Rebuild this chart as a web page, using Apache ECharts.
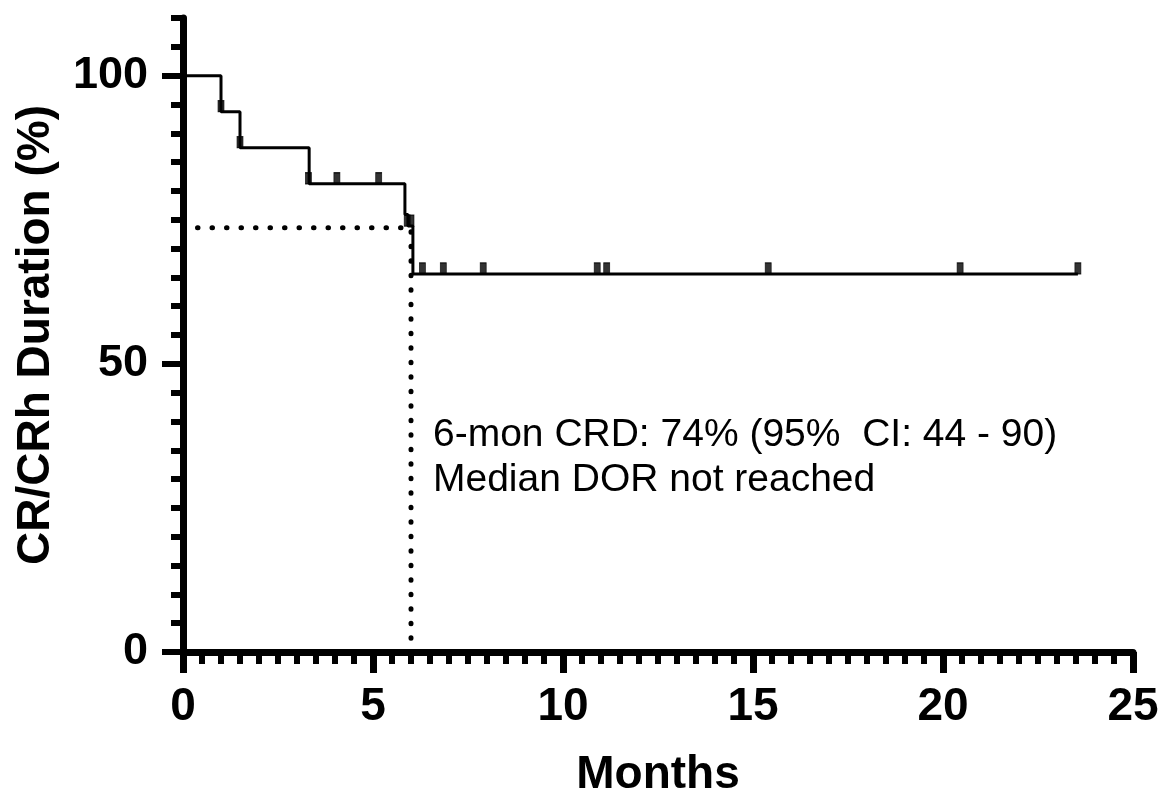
<!DOCTYPE html>
<html>
<head>
<meta charset="utf-8">
<script src="https://cdn.jsdelivr.net/npm/echarts@6/dist/echarts.min.js"></script>
<style>
  html, body { margin: 0; padding: 0; background: #fff; }
  #chart { width: 1163px; height: 799px; }
</style>
</head>
<body>
<div id="chart"></div>
<script>
// Kaplan-Meier step curve (months, % still in CR/CRh)
const stepTimes = [0, 1.0, 1.5, 3.32, 5.84, 5.92, 6.05, 23.55];
const stepSurvival = [100, 93.75, 87.5, 81.25, 75.9, 73.9, 65.6, 65.6];

// censored observations
const censorTimes = [1.0, 1.5, 3.3, 4.05, 5.15, 5.9, 6.0, 6.3, 6.85, 7.9, 10.9, 11.15, 15.4, 20.45, 23.55];
const censorSurvival = [93.75, 87.5, 81.25, 81.25, 81.25, 73.9, 73.9, 65.6, 65.6, 65.6, 65.6, 65.6, 65.6, 65.6, 65.6];

// 6 month reference lines
const refTimes = [0, 6, 6];
const refSurvival = [73.6, 73.6, 0];

const yMajorTicks = [0, 50, 100];

const noteLines = ["6-mon CRD: 74% (95%  CI: 44 - 90)", "Median DOR not reached"];

const FONT = "'Liberation Sans', Arial, sans-serif";

const chart = echarts.init(document.getElementById("chart"));

const zip = (xs, ys) => xs.map((x, i) => [x, ys[i]]);

const option = {
  animation: false,
  backgroundColor: "#fff",
  grid: { left: 183, right: 30, top: 18, bottom: 147, outerBoundsMode: "none", containLabel: false },
  xAxis: {
    type: "value",
    min: 0,
    max: 25,
    interval: 5,
    name: "Months",
    nameLocation: "middle",
    nameGap: 100,
    nameTextStyle: { fontFamily: FONT, fontWeight: "bold", fontSize: 46, color: "#000" },
    axisLine: { show: true, lineStyle: { color: "#000", width: 7 } },
    axisTick: { show: true, length: 21, lineStyle: { color: "#000", width: 7 } },
    minorTick: { show: true, splitNumber: 10, length: 12, lineStyle: { color: "#000", width: 6 } },
    axisLabel: { margin: 32, fontFamily: FONT, fontWeight: "bold", fontSize: 46, color: "#000" },
    splitLine: { show: false },
    minorSplitLine: { show: false },
  },
  yAxis: [
    {
      type: "value",
      min: 0,
      max: 110,
      interval: 5,
      position: "left",
      axisLine: { show: true, lineStyle: { color: "#000", width: 7 } },
      axisTick: { show: true, length: 12, lineStyle: { color: "#000", width: 6 } },
      axisLabel: { show: false },
      splitLine: { show: false },
    },
    {
      type: "value",
      min: 0,
      max: 110,
      interval: 5,
      position: "left",
      name: "CR/CRh Duration (%)",
      nameLocation: "middle",
      nameGap: 124,
      nameTextStyle: { fontFamily: FONT, fontWeight: "bold", fontSize: 46, color: "#000" },
      axisLine: { show: false },
      axisTick: { show: true, customValues: yMajorTicks, length: 21, lineStyle: { color: "#000", width: 6 } },
      axisLabel: { customValues: yMajorTicks, margin: 35, fontFamily: FONT, fontWeight: "bold", fontSize: 45, color: "#000" },
      splitLine: { show: false },
    },
  ],
  graphic: [
    {
      type: "text",
      left: 433,
      top: 413,
      style: {
        text: noteLines.join("\n"),
        font: "39px " + FONT,
        lineHeight: 45,
        fill: "#000",
      },
    },
  ],
  series: [
    {
      name: "ref",
      type: "line",
      data: zip(refTimes, refSurvival),
      symbol: "none",
      silent: true,
      lineStyle: { color: "#000", width: 5, type: [0.5, 14], cap: "round" },
    },
    {
      name: "KM",
      type: "line",
      step: "end",
      data: zip(stepTimes, stepSurvival),
      symbol: "none",
      lineStyle: { color: "#000", width: 3 },
    },
    {
      name: "censored",
      type: "scatter",
      data: zip(censorTimes, censorSurvival),
      symbol: "rect",
      symbolSize: [6, 11],
      symbolOffset: [0, "-50%"],
      itemStyle: { color: "#000", borderColor: "#000", borderWidth: 1 },
    },
  ],
};

chart.setOption(option);
</script>
</body>
</html>
